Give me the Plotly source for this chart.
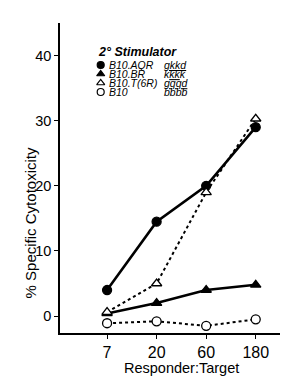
import plotly.graph_objects as go

ratios = ["7", "20", "60", "180"]
aqr = [4, 14.5, 20, 29]
br = [0.4, 2, 4, 4.8]
t6r = [0.6, 5, 19, 30.3]
b10 = [-1.1, -0.8, -1.5, -0.5]

legend_names = ["B10.AQR", "B10.BR", "B10.T(6R)", "B10"]
legend_haplo = ["<u>gkkd</u>", "k<u>kk</u>k", "<u>gqqd</u>", "bbbb"]
legend_symbols = ["circle", "triangle-up", "triangle-up", "circle"]
legend_fills = ["black", "black", "white", "white"]
yticks = [0, 10, 20, 30, 40]

font = "Liberation Sans, Arial, sans-serif"
fig = go.Figure()

series = [
    (aqr, "circle", "black", "solid", 2.6),
    (br, "triangle-up", "black", "solid", 2.6),
    (t6r, "triangle-up", "white", "dot", 2),
    (b10, "circle", "white", "dot", 2),
]
for vals, sym, fill, dash, w in series:
    fig.add_trace(go.Scatter(
        x=ratios, y=vals, mode="lines+markers",
        line=dict(color="black", width=w, dash=dash),
        marker=dict(symbol=sym, size=9, color=fill,
                    line=dict(color="black", width=1.3)),
        showlegend=False, cliponaxis=False, hoverinfo="skip"))

# legend markers on overlay axis (plot-area fractions)
leg_y = [0.8645, 0.8355, 0.8065, 0.7774]
for sym, fill, yy in zip(legend_symbols, legend_fills, leg_y):
    fig.add_trace(go.Scatter(
        x=[0.185], y=[yy], mode="markers", xaxis="x2", yaxis="y2",
        marker=dict(symbol=sym, size=7, color=fill,
                    line=dict(color="black", width=1.2)),
        showlegend=False, hoverinfo="skip"))

fig.add_annotation(x=0.165, y=0.906, xref="paper", yref="paper", xanchor="left",
                   yanchor="middle", text="<b><i>2° Stimulator</i></b>", showarrow=False,
                   font=dict(size=12.5, color="black", family=font))

span = "<span style='font-size:10.5px'><i>{}</i></span>"
mid_y = sum(leg_y) / len(leg_y)
fig.add_annotation(x=0.215, y=mid_y, xref="paper", yref="paper", xanchor="left",
                   yanchor="middle", align="left", showarrow=False,
                   text="<br>".join(span.format(n) for n in legend_names),
                   font=dict(size=7, color="black", family=font))
fig.add_annotation(x=0.465, y=mid_y, xref="paper", yref="paper", xanchor="left",
                   yanchor="middle", align="left", showarrow=False,
                   text="<br>".join(span.format(h) for h in legend_haplo),
                   font=dict(size=7, color="black", family=font))

fig.add_annotation(x=-0.182, y=0.355, xref="paper", yref="paper",
                   text="% Specific Cytotoxicity", textangle=-90, showarrow=False,
                   font=dict(size=15, color="black", family=font))
fig.add_annotation(x=0.552, y=-0.113, xref="paper", yref="paper", yanchor="middle",
                   text="Responder:Target", showarrow=False,
                   font=dict(size=14.5, color="black", family=font))

fig.update_layout(
    width=293, height=379,
    margin=dict(l=60, r=13, t=23, b=46),
    paper_bgcolor="white", plot_bgcolor="white",
    font=dict(family=font, color="black"),
    xaxis=dict(type="category", range=[-0.95, 3.49],
               showgrid=False, zeroline=False, showline=True, linecolor="black", linewidth=1.5,
               ticks="outside", ticklen=4, tickwidth=1, tickcolor="black",
               tickfont=dict(size=16, family=font)),
    yaxis=dict(range=[-2.6, 45], tickvals=yticks, showgrid=False, zeroline=False,
               showline=True, linecolor="black", linewidth=1.5,
               ticks="outside", ticklen=4, tickwidth=1, tickcolor="black",
               tickfont=dict(size=14.5, family=font)),
    xaxis2=dict(range=[0, 1], overlaying="x", visible=False),
    yaxis2=dict(range=[0, 1], overlaying="y", visible=False),
)

fig.write_html("out.html", config={"displayModeBar": False},
               post_script="document.body.style.margin='0';document.body.style.padding='0';")
